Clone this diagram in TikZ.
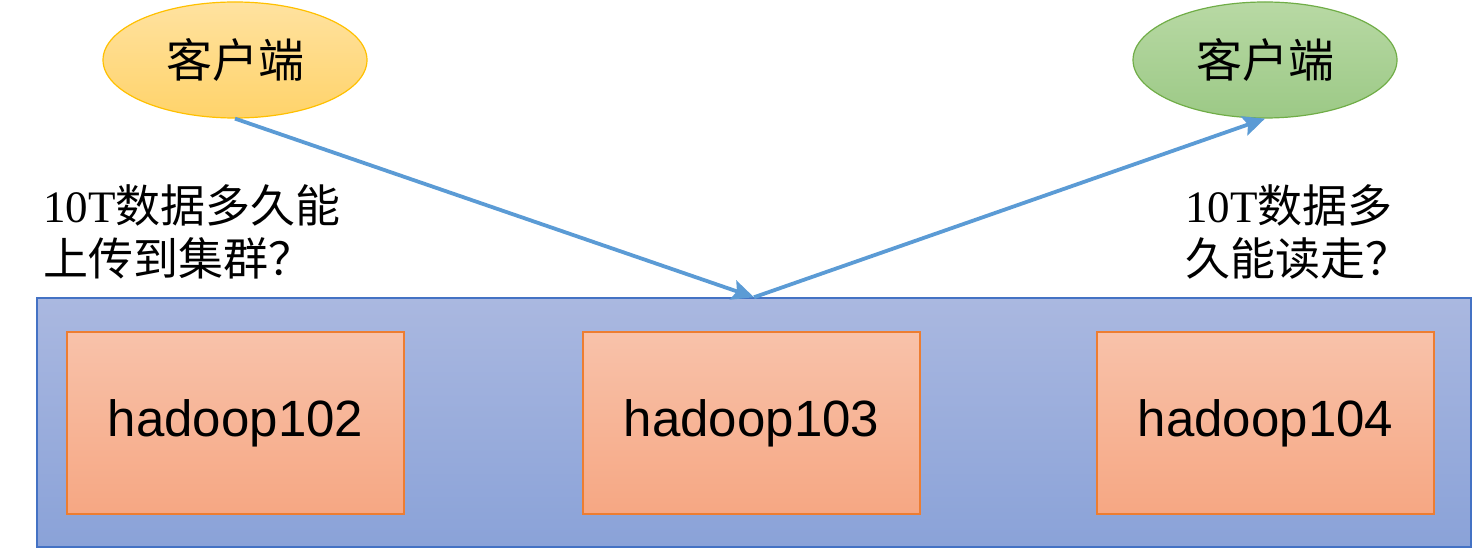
\documentclass[tikz,border=0pt]{standalone}
\usetikzlibrary{shapes.geometric,arrows.meta}
\usepackage{fontspec}
\setmainfont{Liberation Serif}
\newfontfamily\cjk{Noto Sans CJK SC}
\newfontfamily\arialf{Liberation Sans}
\definecolor{arrowblue}{HTML}{5B9BD5}
\definecolor{clusterborder}{HTML}{4472C4}
\definecolor{clustertop}{HTML}{AAB8E0}
\definecolor{clusterbot}{HTML}{8AA2D8}
\definecolor{hostborder}{HTML}{ED7D31}
\definecolor{hosttop}{HTML}{F8C2AA}
\definecolor{hostbot}{HTML}{F6A783}
\definecolor{ytop}{HTML}{FFE2A0}
\definecolor{ybot}{HTML}{FFD36A}
\definecolor{yborder}{HTML}{FFC000}
\definecolor{gtop}{HTML}{B8D9A4}
\definecolor{gbot}{HTML}{9CC986}
\definecolor{gborder}{HTML}{70AD47}
\begin{document}
\begin{tikzpicture}[x=1pt,y=-1pt,
  client/.style={ellipse, minimum width=264pt, minimum height=116pt, inner sep=0pt, line width=1.2pt, font=\cjk\fontsize{46}{50}\selectfont},
  host/.style={rectangle, draw=hostborder, line width=1.2pt, top color=hosttop, bottom color=hostbot, minimum width=337pt, minimum height=182pt, inner sep=0pt, font=\arialf\fontsize{51}{56}\selectfont},
  question/.style={align=left, inner sep=0pt, font=\fontsize{45}{53}\selectfont},
  flow/.style={draw=arrowblue, line width=3.8pt, -{Stealth[length=22pt,width=20pt,inset=4pt]}}
]
\useasboundingbox (0,0) rectangle (1477,553);
\node[client, draw=yborder, top color=ytop, bottom color=ybot] (c1) at (235,60) {客户端};
\node[client, draw=gborder, top color=gtop, bottom color=gbot] (c2) at (1265,60) {客户端};
\node[rectangle, draw=clusterborder, line width=1.5pt, top color=clustertop, bottom color=clusterbot, minimum width=1434pt, minimum height=249pt, inner sep=0pt] (cluster) at (754,422.5) {};
\node[host] (h2) at (235.5,423) {hadoop102};
\node[host] (h3) at (751.5,423) {hadoop103};
\node[host] (h4) at (1265.5,423) {hadoop104};
\node[question, anchor=west] (q1) at (43,232) {10T{\cjk 数据多久能}\\{\cjk 上传到集群？}};
\node[question, anchor=west] (q2) at (1185,232) {10T{\cjk 数据多}\\{\cjk 久能读走？}};
\draw[flow] (c1.south) -- (cluster.north);
\draw[flow] (cluster.north) -- (c2.south);
\end{tikzpicture}
\end{document}
